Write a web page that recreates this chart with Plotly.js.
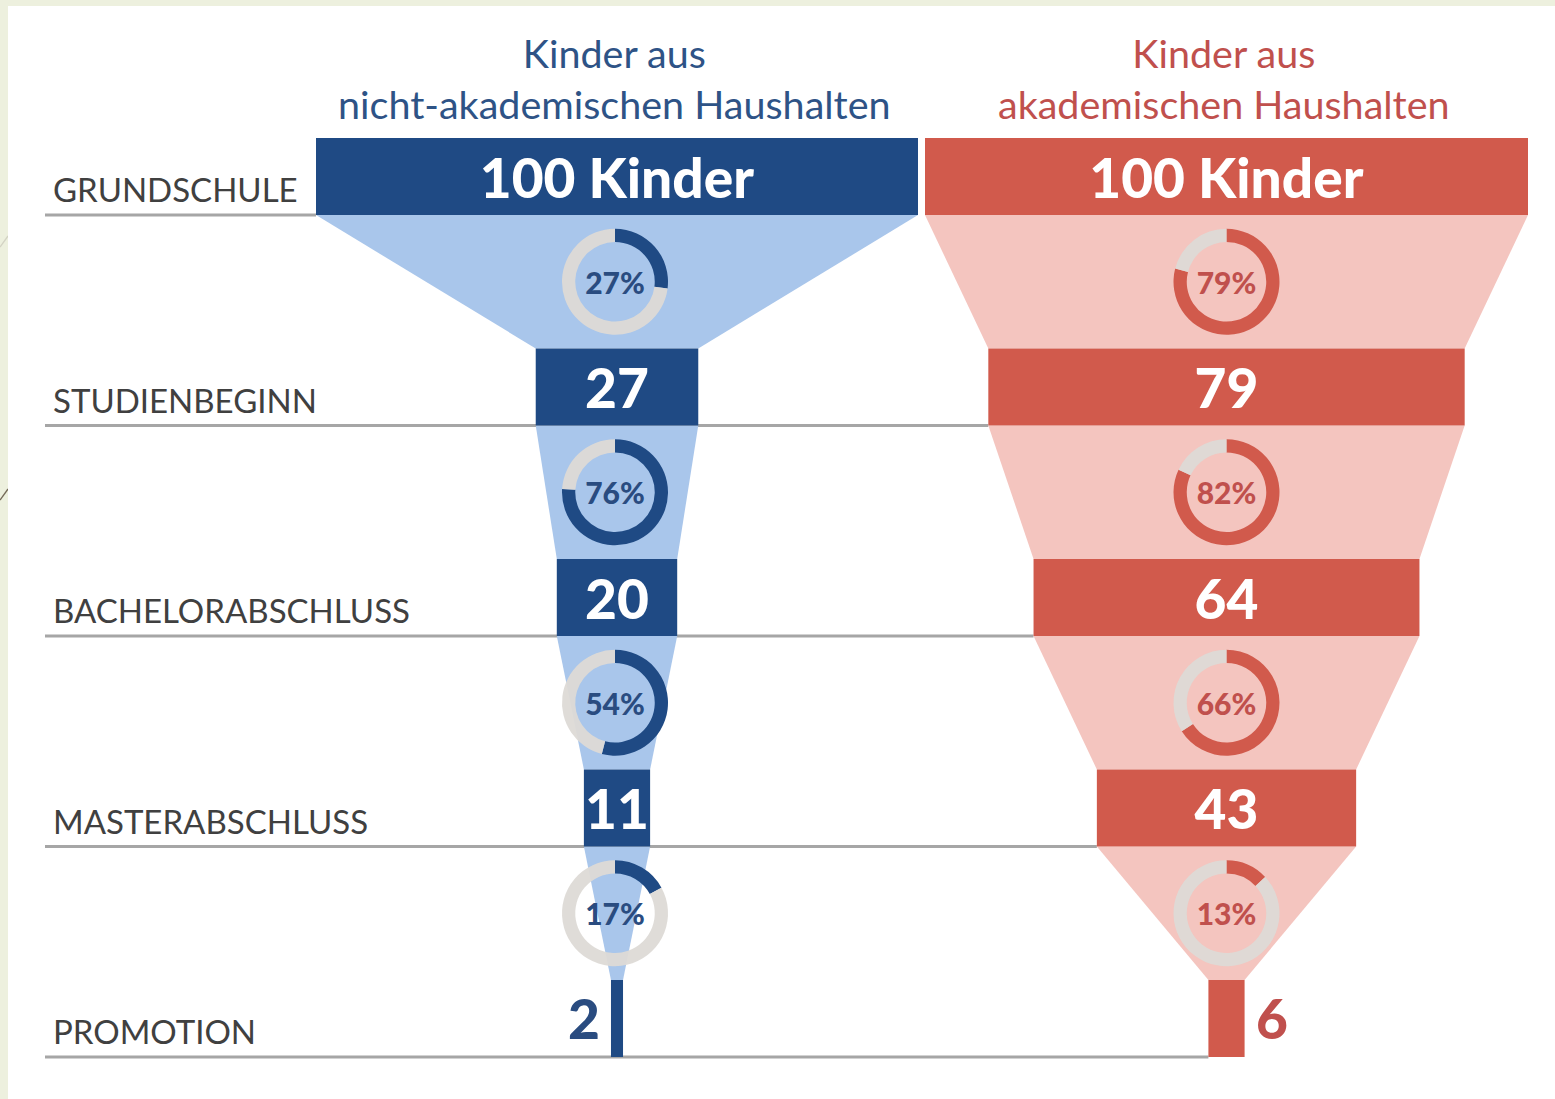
<!DOCTYPE html>
<html><head><meta charset="utf-8">
<script src="https://cdn.plot.ly/plotly-3.0.1.min.js"></script>
<style>
html,body{margin:0;padding:0;background:#edf0de;width:1555px;height:1099px;overflow:hidden;}
#chart{position:absolute;left:8px;top:6px;width:1547px;height:1093px;background:#fff;}
</style></head><body>
<svg style="position:absolute;left:0;top:0" width="10" height="1099"><line x1="0" y1="247" x2="8" y2="236" stroke="#d3d3c4" stroke-width="1.3"/><line x1="0" y1="500" x2="8" y2="489" stroke="#746a58" stroke-width="1.3"/></svg>
<div id="chart"></div>
<script>
// ---- data ----
const stages = ['GRUNDSCHULE','STUDIENBEGINN','BACHELORABSCHLUSS','MASTERABSCHLUSS','PROMOTION'];
const groupTitles = ['Kinder aus<br>nicht-akademischen Haushalten','Kinder aus<br>akademischen Haushalten'];
const nonAcademic = [100, 27, 20, 11, 2];
const academic = [100, 79, 64, 43, 6];
const nonAcademicRates = [27, 76, 54, 17];
const academicRates = [79, 82, 66, 13];
const unitLabel = 'Kinder';

// ---- style / layout ----
const W = 1547, H = 1093;
const M = {l: 0, r: 0, t: 132, b: 42};
const PW = W - M.l - M.r, PH = H - M.t - M.b;
const BAR_W = 0.366;
const yRange = [stages.length - 1 + BAR_W / 2, -BAR_W / 2];
const xDomains = [[308 / PW, 910 / PW], [917 / PW, 1520 / PW]];
const maxV = Math.max(...nonAcademic, ...academic);
const xRange = [-maxV / 2, maxV / 2];
const FONT = 'Lato, "Open Sans", sans-serif';

const series = [
  {vals: nonAcademic, rates: nonAcademicRates, dark: '#1f4a84', light: '#a9c6eb', head: '#2e5386', pct: '#2a4c80', lastSide: 'left'},
  {vals: academic, rates: academicRates, dark: '#d15a4c', light: '#f4c5bf', head: '#c0504d', pct: '#c0504d', lastSide: 'right'}
];

function xToPaper(k, v) {
  const d = xDomains[k];
  return d[0] + (v - xRange[0]) / (xRange[1] - xRange[0]) * (d[1] - d[0]);
}
function yToPaper(y) {
  return 1 - (y - yRange[1]) / (yRange[0] - yRange[1]);
}

const traces = [];
const annotations = [];
const shapes = [];
const RING_R = 53;

series.forEach((s, k) => {
  const xa = k === 0 ? 'x' : 'x2';
  const text = s.vals.map((v, i) => i === 0 ? v + ' ' + unitLabel : (i === s.vals.length - 1 ? '' : String(v)));
  traces.push({
    type: 'funnel', y: stages, x: s.vals, xaxis: xa, yaxis: 'y',
    width: BAR_W,
    marker: {color: s.dark, line: {width: 0}},
    connector: {fillcolor: s.light, line: {width: 0}},
    text: text, textinfo: 'text', textposition: 'inside', insidetextanchor: 'middle',
    constraintext: 'none',
    textfont: {family: FONT, size: 55, color: '#ffffff', weight: 900},
    hoverinfo: 'skip', showlegend: false
  });
  // last value label outside the thin bar
  const last = s.vals.length - 1;
  const lv = s.vals[last];
  annotations.push({
    xref: 'paper', yref: 'paper',
    x: xToPaper(k, s.lastSide === 'left' ? -lv / 2 : lv / 2),
    y: yToPaper(last),
    xanchor: s.lastSide === 'left' ? 'right' : 'left', yanchor: 'middle',
    xshift: s.lastSide === 'left' ? -9 : 9,
    text: String(lv), showarrow: false,
    font: {family: FONT, size: 55, color: s.pct, weight: 900}
  });
  // group header
  annotations.push({
    xref: 'paper', yref: 'paper', x: xToPaper(k, 0) - 3 / PW, y: 1 + (M.t - 72) / PH,
    xanchor: 'center', yanchor: 'middle', text: groupTitles[k], showarrow: false,
    font: {family: FONT, size: 39.5, color: s.head}
  });
  // conversion donuts
  s.rates.forEach((r, i) => {
    const cx = xToPaper(k, 0) * PW - (k === 0 ? 2 : 0);
    const cy = yToPaper(i + 0.5) * PH;
    traces.push({
      type: 'pie', values: [r, 100 - r], sort: false, direction: 'clockwise', rotation: 0,
      hole: 0.75, textinfo: 'none', hoverinfo: 'skip', showlegend: false,
      marker: {colors: [s.dark, 'rgba(221,218,214,0.95)'], line: {width: 0}},
      domain: {x: [(cx - RING_R) / PW, (cx + RING_R) / PW], y: [(cy - RING_R) / PH, (cy + RING_R) / PH]},
      title: {text: r + '%', position: 'middle center', font: {family: FONT, size: 30, color: s.pct, weight: 900}}
    });
  });
});

// stage labels and guide lines
stages.forEach((st, i) => {
  const yb = yToPaper(i + BAR_W / 2);
  annotations.push({
    xref: 'paper', yref: 'paper', x: 43 / PW, y: yb, xanchor: 'left', yanchor: 'bottom', yshift: 4,
    text: st, showarrow: false, font: {family: FONT, size: 33, color: '#404040'}
  });
  const x1 = i === 0 ? xToPaper(0, -nonAcademic[0] / 2) : xToPaper(1, -academic[i] / 2);
  shapes.push({
    type: 'line', xref: 'paper', yref: 'paper', x0: 37 / PW, x1: x1, y0: yb, y1: yb,
    line: {color: '#a6a6a6', width: 3}, layer: 'below'
  });
});

const axisX = (k) => ({domain: xDomains[k], range: xRange, visible: false, fixedrange: true, showgrid: false, zeroline: false});
const layout = {
  width: W, height: H, margin: M,
  paper_bgcolor: '#ffffff', plot_bgcolor: 'rgba(0,0,0,0)',
  font: {family: FONT},
  xaxis: axisX(0), xaxis2: axisX(1),
  yaxis: {type: 'category', range: yRange, autorange: false, visible: false, fixedrange: true, showgrid: false, zeroline: false},
  annotations: annotations, shapes: shapes, showlegend: false
};
Plotly.newPlot('chart', traces, layout, {displayModeBar: false, staticPlot: true});
</script>
</body></html>
